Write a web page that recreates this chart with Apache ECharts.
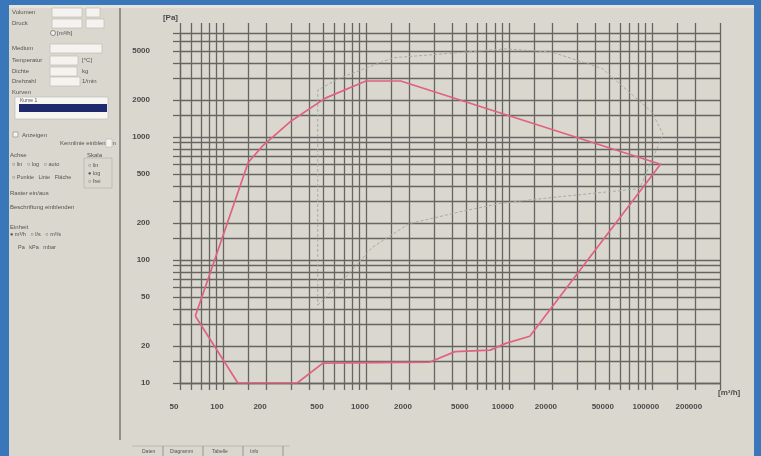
<!DOCTYPE html>
<html><head><meta charset="utf-8">
<script src="https://cdn.jsdelivr.net/npm/echarts@6/dist/echarts.min.js"></script>
<style>html,body{margin:0;padding:0;background:#3a76ba;}#c{width:761px;height:456px;}</style>
</head><body><div id="c"></div>
<script>
// ---- data ----
const xTickLabels = [50, 100, 200, 500, 1000, 2000, 5000, 10000, 20000, 50000, 100000, 200000];
const yTickLabels = [10, 20, 50, 100, 200, 500, 1000, 2000, 5000];
const xGridValues = [50, 60, 70, 80, 90, 100, 150, 200, 300, 400, 500, 600, 700, 800, 900,
  1000, 1500, 2000, 3000, 4000, 5000, 6000, 7000, 8000, 9000,
  10000, 15000, 20000, 30000, 40000, 50000, 60000, 70000, 80000, 90000,
  100000, 150000, 200000, 300000];
const yGridValues = [10, 15, 20, 30, 40, 50, 60, 70, 80, 90, 100, 150, 200, 300, 400, 500, 600, 700, 800, 900,
  1000, 1500, 2000, 3000, 4000, 5000, 6000, 7000];
const redFlow =     [64, 150, 190, 300, 520, 1000, 1750, 115000, 14000, 9500, 7400, 4200, 2800, 500, 330, 127, 64];
const redPressure = [35, 620, 850, 1350, 2070, 2850, 2850, 600, 24, 21, 18.5, 18, 14.8, 14.5, 10, 10, 35];
const grayFlow =     [460, 690, 1100, 2000, 4800, 9000, 19000, 82000, 120000, 100000, 45000, 20000, 9500, 1550, 650, 460, 460];
const grayPressure = [43, 68, 126, 197, 250, 290, 320, 380, 1050, 1600, 3600, 4900, 5200, 4400, 3000, 2400, 43];

const red = redFlow.map((v, i) => [v, redPressure[i]]);
const gray = grayFlow.map((v, i) => [v, grayPressure[i]]);

const gridColor = '#656561';
const lblStyle = { color: '#4a4a48', fontSize: 8, fontWeight: 'bold', fontFamily: 'Liberation Sans' };

// ---- left panel decoration ----
const g = [];
g.push({ type: 'rect', z: -100, shape: { x: 9, y: 5, width: 745, height: 451 }, style: { fill: '#dad7cf' } });
g.push({ type: 'rect', z: -99, shape: { x: 9, y: 5, width: 745, height: 3 }, style: { fill: '#e6e3dc' } });
g.push({ type: 'line', shape: { x1: 120, y1: 8, x2: 120, y2: 440 }, style: { stroke: '#7a7872', lineWidth: 1.5 } });
function txt(x, y, s, size) { g.push({ type: 'text', x: x, y: y, style: { text: s, fill: '#55534f', font: (size || 6) + 'px "Liberation Sans"', textVerticalAlign: 'middle' } }); }
function box(x, y, w, h, fill) { g.push({ type: 'rect', shape: { x: x, y: y, width: w, height: h }, style: { fill: fill || '#f4f3f0', stroke: '#b8b5ad', lineWidth: 0.6 } }); }
txt(12, 12, 'Volumen'); box(52, 8, 30, 9); box(86, 8, 14, 9);
txt(12, 23, 'Druck'); box(52, 19, 30, 9); box(86, 19, 18, 9);
txt(57, 33, '[m³/h]');
g.push({ type: 'circle', shape: { cx: 53, cy: 33, r: 2.5 }, style: { fill: '#f4f3f0', stroke: '#888' } });
txt(12, 48, 'Medium'); box(50, 44, 52, 9);
txt(12, 60, 'Temperatur'); box(50, 56, 28, 9); txt(82, 60, '[°C]');
txt(12, 71, 'Dichte'); box(50, 67, 27, 9); txt(82, 71, 'kg');
txt(12, 81, 'Drehzahl'); box(50, 77, 30, 9); txt(82, 81, '1/min');
txt(12, 92, 'Kurven');
box(15, 97, 93, 22, '#f7f6f3'); txt(20, 100.5, 'Kurve 1', 5);
g.push({ type: 'rect', shape: { x: 19, y: 104, width: 88, height: 8 }, style: { fill: '#1f2a6e' } });
g.push({ type: 'rect', shape: { x: 13, y: 132, width: 5, height: 5 }, style: { fill: '#f4f3f0', stroke: '#888', lineWidth: 0.6 } });
txt(22, 135, 'Anzeigen');
txt(60, 143, 'Kennlinie einblenden'); box(106, 139, 6, 8);
txt(10, 155, 'Achse'); txt(87, 155, 'Skala');
g.push({ type: 'rect', shape: { x: 84, y: 158, width: 28, height: 30 }, style: { fill: 'none', stroke: '#b0ada5', lineWidth: 0.6 } });
txt(12, 164, '○ lin   ○ log   ○ auto', 5.5);
txt(12, 177, '○ Punkte   Linie   Fläche', 5.5);
txt(88, 165, '○ lin', 5.5); txt(88, 173, '● log', 5.5); txt(88, 181, '○ frei', 5.5);
txt(10, 193, 'Raster ein/aus');
txt(10, 207, 'Beschriftung einblenden');
txt(10, 227, 'Einheit');
txt(10, 234, '● m³/h   ○ l/s   ○ m³/s', 5.5);
txt(18, 247, 'Pa   kPa   mbar', 5.5);
// bottom tabs
g.push({ type: 'line', shape: { x1: 132, y1: 446, x2: 290, y2: 446 }, style: { stroke: '#b5b2aa', lineWidth: 0.8 } });
txt(142, 452, 'Daten', 5); txt(170, 452, 'Diagramm', 5); txt(212, 452, 'Tabelle', 5); txt(250, 452, 'Info', 5);
[163, 203, 243, 283].forEach(x => g.push({ type: 'line', shape: { x1: x, y1: 446, x2: x, y2: 456 }, style: { stroke: '#8a8780', lineWidth: 0.8 } }));
// axis units
g.push({ type: 'text', x: 178, y: 18, style: { text: '[Pa]', fill: '#4a4a48', font: 'bold 8px "Liberation Sans"', textAlign: 'right', textVerticalAlign: 'middle' } });
g.push({ type: 'text', x: 718, y: 393, style: { text: '[m³/h]', fill: '#4a4a48', font: 'bold 8px "Liberation Sans"', textAlign: 'left', textVerticalAlign: 'middle' } });

const chart = echarts.init(document.getElementById('c'), null, { renderer: 'canvas' });
chart.setOption({
  backgroundColor: '#3a76ba',
  animation: false,
  graphic: g,
  grid: { left: 180, right: 41, top: 33, bottom: 73, containLabel: false },
  xAxis: [{
    type: 'log', logBase: 10, min: 50, max: 300000,
    axisLine: { show: true, lineStyle: { color: gridColor, width: 1.3 } },
    axisTick: { show: true, customValues: xGridValues, length: 7, lineStyle: { color: gridColor, width: 1.3 } },
    axisLabel: { show: true, customValues: xTickLabels, margin: 20, padding: [0, 12, 0, 0], formatter: v => String(Math.round(v)), ...lblStyle },
    splitLine: { show: true, lineStyle: { color: gridColor, width: 1.3 } }
  }, {
    type: 'log', logBase: 10, min: 50, max: 300000, position: 'top',
    axisLine: { show: false },
    axisTick: { show: true, customValues: xGridValues, length: 10, lineStyle: { color: gridColor, width: 1.3 } },
    axisLabel: { show: false },
    splitLine: { show: false }
  }],
  yAxis: {
    type: 'log', logBase: 10, min: 10, max: 7000,
    axisLine: { show: true, lineStyle: { color: gridColor, width: 1.3 } },
    axisTick: { show: true, customValues: yGridValues, length: 7, lineStyle: { color: gridColor, width: 1.3 } },
    axisLabel: { show: true, customValues: yTickLabels, margin: 30, formatter: v => String(Math.round(v)), ...lblStyle },
    splitLine: { show: true, lineStyle: { color: gridColor, width: 1.3 } }
  },
  series: [{
    type: 'line', data: gray, symbol: 'none', z: 3,
    lineStyle: { color: '#a3ada2', width: 1, type: [3, 2] }
  }, {
    type: 'line', data: red, symbol: 'none', z: 4,
    lineStyle: { color: '#e0627e', width: 1.7 }
  }]
});
</script></body></html>
